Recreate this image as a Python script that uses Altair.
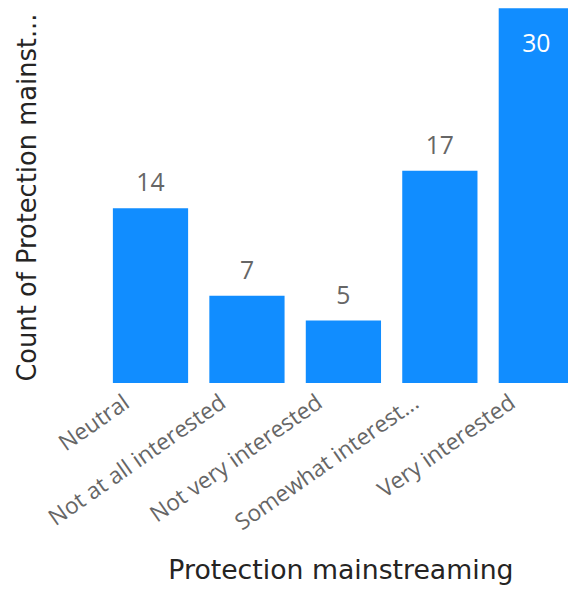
import altair as alt
import pandas as pd

categories = ["Neutral", "Not at all interested", "Not very interested", "Somewhat interested", "Very interested"]
counts = [14, 7, 5, 17, 30]

df = pd.DataFrame({"cat": categories, "count": counts})

xscale = alt.Scale(paddingInner=0.22, paddingOuter=0, range=[0, 466])
yscale = alt.Scale(domain=[0, 29.77], nice=False)

x = alt.X("cat:N", sort=categories, scale=xscale,
          axis=alt.Axis(title="Protection mainstreaming", labelAngle=-35,
                        labelFont="Open Sans", labelFontSize=23, labelColor="#666666",
                        labelExpr="datum.label == 'Somewhat interested' ? 'Somewhat interest...' : datum.label",
                        labelPadding=8, labelOffset=-30, labelLimit=400,
                        domain=False, ticks=False, grid=False,
                        titleFont="DejaVu Sans", titleFontSize=27, titleFontWeight="normal",
                        titleColor="#252423", titleBaseline="middle", titleY=190, titleX=230))
y = alt.Y("count:Q", scale=yscale,
          axis=alt.Axis(title="Count of Protection mainst...", labels=False, ticks=False,
                        domain=False, grid=False,
                        titleFont="DejaVu Sans", titleFontSize=26, titleFontWeight="normal",
                        titleColor="#252423", titleX=-86, titleBaseline="middle"))

bars = alt.Chart(df).mark_bar(color="#118DFF").encode(x=x, y=y)

outside = alt.Chart(df).transform_filter("datum.count < 25").mark_text(
    font="Open Sans", fontSize=25, color="#666666", baseline="alphabetic", dy=-17
).encode(x=alt.X("cat:N", sort=categories, scale=xscale), y=alt.Y("count:Q", scale=yscale), text="count:Q")

inside = alt.Chart(df).transform_filter("datum.count >= 25").mark_text(
    font="Open Sans", fontSize=25, color="#FFFFFF", baseline="alphabetic", dy=44
).encode(x=alt.X("cat:N", sort=categories, scale=xscale), y=alt.Y("count:Q", scale=yscale), text="count:Q")

chart = alt.layer(bars, outside, inside).properties(
    width=460, height=376,
    autosize=alt.AutoSizeParams(type="none"),
    padding={"left": 106, "top": 0, "right": 0, "bottom": 206},
).configure_view(stroke=None)

chart.save("out.html", embed_options={"renderer": "svg", "actions": False})
